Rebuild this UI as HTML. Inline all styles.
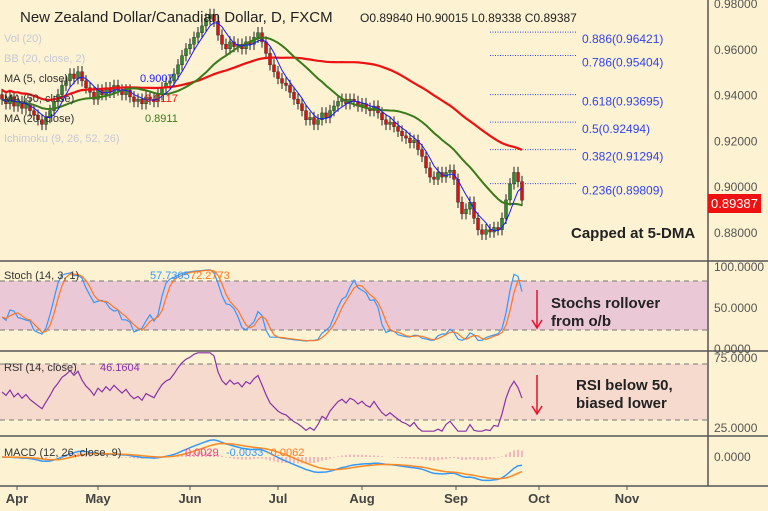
<!DOCTYPE html>
<html><head><meta charset="utf-8"><style>
html,body{margin:0;padding:0;background:#fdf2d2;}
svg{display:block;font-family:"Liberation Sans",sans-serif;}
</style></head><body>
<svg id="c" width="768" height="511" viewBox="0 0 768 511">
<rect x="0" y="0" width="768" height="511" fill="#fdf2d2"/>
<rect x="0" y="281" width="708" height="49" fill="#ebc8d6"/>
<rect x="0" y="364" width="708" height="56" fill="#f6dacd"/>
<g id="grid"></g>
<g id="marks"></g>
<g id="txt"></g>
</svg>
<script>
const months = ["Apr","May","Jun","Jul","Aug","Sep","Oct","Nov"];
const monthX = [17,98,190,278,362,456,539,627];
const priceTicks = [0.98,0.96,0.94,0.92,0.90,0.88];
const stochTicks = ["100.0000","50.0000","0.0000"];
const rsiTicks = ["75.0000","25.0000"];
const fibLevels = [0.96421,0.95404,0.93695,0.92494,0.91294,0.89809];
const fibNames = ["0.886","0.786","0.618","0.5","0.382","0.236"];
const closes = [.938,.936,.939,.935,.937,.934,.936,.933,.931,.929,.927,.930,.933,.937,.940,.944,.946,.949,.947,.950,
.946,.943,.941,.938,.942,.940,.943,.941,.944,.942,.940,.942,.939,.937,.938,.936,.939,.938,.937,.940,
.943,.945,.946,.949,.953,.957,.960,.962,.965,.967,.970,.973,.975,.972,.966,.962,.960,.963,.961,.962,
.960,.963,.962,.965,.967,.963,.958,.953,.950,.947,.945,.944,.941,.938,.936,.933,.929,.930,.927,.929,
.932,.930,.933,.935,.937,.938,.936,.938,.937,.935,.936,.934,.933,.935,.932,.929,.927,.928,.926,.924,
.922,.921,.919,.920,.916,.913,.908,.904,.903,.906,.904,.906,.907,.903,.893,.888,.890,.893,.886,.881,
.879,.881,.880,.882,.881,.886,.894,.901,.906,.902,.89387];
const firstOpen = 0.940;

const NS="http://www.w3.org/2000/svg";
function mk(tag,attrs,parent,text){const e=document.createElementNS(NS,tag);for(const k in attrs)e.setAttribute(k,attrs[k]);if(text!==undefined)e.textContent=text;(parent||document.getElementById('marks')).appendChild(e);return e;}
const xOf=i=>2+i*4;
const yP=p=>3+(0.98-p)/0.02*45.8;
const yS=v=>346-v*0.81;
const yR=v=>357+(75-v)*1.4;
const yM=v=>Math.max(438,Math.min(484,457-v*2000));
const grid=document.getElementById('grid'), txt=document.getElementById('txt');

[261,351,436,486].forEach(y=>{const l=mk('line',{x1:0,x2:768,y1:y,y2:y,stroke:'#555','stroke-width':1.5},grid);});
let ax=mk('line',{x1:708,x2:708,y1:0,y2:486,stroke:'#555','stroke-width':1.5},grid);
[[281,'stoch-80'],[330,'stoch-20'],[364,'rsi-70'],[420,'rsi-30']].forEach(a=>{const l=mk('line',{x1:0,x2:708,y1:a[0],y2:a[0],stroke:'#777','stroke-dasharray':'5,4'},grid);});

priceTicks.forEach(p=>{const t=mk('text',{x:714,y:yP(p)+5,'font-size':12,fill:'#555'},txt,p.toFixed(5));});
[[100,267],[50,308],[0,349]].forEach((a,k)=>{const t=mk('text',{x:714,y:a[1]+4,'font-size':12,fill:'#555'},txt,stochTicks[k]);});
[[75,358],[25,428]].forEach((a,k)=>{const t=mk('text',{x:714,y:a[1]+4,'font-size':12,fill:'#555'},txt,rsiTicks[k]);});
let mt=mk('text',{x:714,y:461,'font-size':12,fill:'#555'},txt,'0.0000');
months.forEach((m,k)=>{const t=mk('text',{x:monthX[k],y:503,'font-size':13,'font-weight':'bold',fill:'#444','text-anchor':'middle'},txt,m);
const l=mk('line',{x1:monthX[k],x2:monthX[k],y1:486,y2:490,stroke:'#555'},grid);});

fibLevels.forEach((f,k)=>{const y=yP(f);const l=mk('line',{x1:490,x2:577,y1:y-7,y2:y-7,stroke:'#3344ee','stroke-dasharray':'1,1.5'});
const t=mk('text',{x:582,y:y+4,'font-size':12,fill:'#3344ee'},txt,fibNames[k]+'('+f.toFixed(5)+')');});

const n=closes.length, highs=[], lows=[];
for(let i=0;i<n;i++){const o=i?closes[i-1]:firstOpen,c=closes[i];const hi=Math.max(o,c)+0.0025,lo=Math.min(o,c)-0.0025;highs.push(hi);lows.push(lo);const x=xOf(i);
const w=mk('line',{x1:x,x2:x,y1:yP(hi),y2:yP(lo),stroke:'#222','stroke-width':1});
const up=c>=o;const b=mk('rect',{x:x-1.5,y:yP(Math.max(o,c)),width:3,height:Math.max(1,Math.abs(yP(o)-yP(c))),fill:up?'#2e8b2e':'#dd1111',stroke:'#222','stroke-width':0.4});}

function sma(arr,p){return arr.map((_,i)=>{const s=Math.max(0,i-p+1);let t=0;for(let j=s;j<=i;j++)t+=arr[j];return t/(i-s+1);});}
function ema(arr,p){const k=2/(p+1);let e=arr[0];return arr.map(v=>e=v*k+e*(1-k));}
function line(vals,yf,color,w,name){const d=vals.map((v,i)=>(i?'L':'M')+xOf(i).toFixed(1)+','+yf(v).toFixed(1)).join('');const p=mk('path',{d:d,fill:'none',stroke:color,'stroke-width':w});}
line(sma(closes,50).map(v=>v+0.004),yP,'#ee1111',2.2,'ma50-line');
line(sma(closes,20),yP,'#3a7a1a',2,'ma20-line');
line(sma(closes,5),yP,'#1a1aff',1,'ma5-line');

const kRaw=closes.map((c,i)=>{const s=Math.max(0,i-13);const hh=Math.max(...highs.slice(s,i+1)),ll=Math.min(...lows.slice(s,i+1));return (c-ll)/(hh-ll)*100;});
const kS=sma(kRaw,2);
line(kS,yS,'#3399ff',1.2,'stoch-k-line');
line(sma(kS,3),yS,'#ff7722',1.2,'stoch-d-line');
let ag=0.0015,al=0.0015;const rsi=closes.map((c,i)=>{if(!i)return 50;const d=c-closes[i-1];ag=(ag*13+Math.max(d,0))/14;al=(al*13+Math.max(-d,0))/14;return 100-100/(1+ag/al);}).map(v=>Math.max(22,Math.min(78,v)));
line(rsi,yR,'#8833aa',1.2,'rsi-line');
const e26=ema(closes,26);const macd=ema(closes,12).map((v,i)=>v-e26[i]);const sig=ema(macd,9);
macd.forEach((v,i)=>{const h=v-sig[i];const r=mk('line',{x1:xOf(i),x2:xOf(i),y1:yM(0),y2:yM(h),stroke:'#f07aa8','stroke-width':1});});
line(macd,yM,'#3399ff',1.5,'macd-line');
line(sig,yM,'#ff8822',1.5,'macd-signal-line');

function T(x,y,s,str,attrs,name){const a=Object.assign({x:x,y:y,'font-size':s},attrs||{});const t=mk('text',a,txt,str);return t;}
T(20,22,15,'New Zealand Dollar/Canadian Dollar, D, FXCM',{fill:'#222'},'chart-title');
T(360,22,12,'O0.89840   H0.90015   L0.89338   C0.89387',{fill:'#222'},'ohlc-readout');
T(4,42,11,'Vol (20)',{fill:'#c8c8d8'},'vol-legend');
T(4,62,11,'BB (20, close, 2)',{fill:'#c8c8d8'},'bb-legend');
T(4,82,11,'MA (5, close)',{fill:'#333'},'ma5-legend');T(140,82,11,'0.9007',{fill:'#2222ff'},'ma5-value');
T(4,102,11,'MA (50, close)',{fill:'#333'},'ma50-legend');T(145,102,11,'0.9117',{fill:'#ee1111'},'ma50-value');
T(4,122,11,'MA (20, close)',{fill:'#333'},'ma20-legend');T(145,122,11,'0.8911',{fill:'#3a7a1a'},'ma20-value');
T(4,142,11,'Ichimoku (9, 26, 52, 26)',{fill:'#c8c8d8'},'ichimoku-legend');
T(4,279,11,'Stoch (14, 3, 1)',{fill:'#333'},'stoch-legend');T(150,279,11,'57.7305',{fill:'#3399ff'},'stoch-k-value');T(190,279,11,'72.2773',{fill:'#ff7722'},'stoch-d-value');
T(4,371,11,'RSI (14, close)',{fill:'#333'},'rsi-legend');T(100,371,11,'46.1604',{fill:'#8833aa'},'rsi-value');
T(4,456,11,'MACD (12, 26, close, 9)',{fill:'#333'},'macd-legend');T(185,456,11,'0.0029',{fill:'#ee4488'},'macd-hist-value');T(226,456,11,'-0.0033',{fill:'#3399ff'},'macd-value');T(267,456,11,'-0.0062',{fill:'#ff7722'},'macd-signal-value');
T(571,238,15,'Capped at 5-DMA',{fill:'#222','font-weight':'bold'},'annotation-capped');
T(551,308,15,'Stochs rollover',{fill:'#222','font-weight':'bold'},'annotation-stoch-1');
T(551,326,15,'from o/b',{fill:'#222','font-weight':'bold'},'annotation-stoch-2');
T(576,390,15,'RSI below 50,',{fill:'#222','font-weight':'bold'},'annotation-rsi-1');
T(576,408,15,'biased lower',{fill:'#222','font-weight':'bold'},'annotation-rsi-2');
[[290,327,'stoch-arrow'],[375,413,'rsi-arrow']].forEach(a=>{const l=mk('line',{x1:537,x2:537,y1:a[0],y2:a[1],stroke:'#e8102a','stroke-width':1.5});
const p=mk('path',{d:`M532,${a[1]-7}L537,${a[1]+1}L542,${a[1]-7}`,fill:'none',stroke:'#e8102a','stroke-width':1.5});});
const cb=mk('rect',{x:708,y:194,width:53,height:19,fill:'#ee1111'});
T(711,208,13,'0.89387',{fill:'#fff'},'current-price-label');
</script>
</body></html>
